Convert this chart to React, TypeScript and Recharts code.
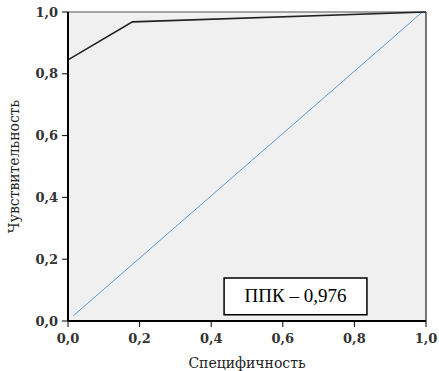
import React from "react";
import { ComposedChart, Line, XAxis, YAxis, CartesianGrid, ReferenceLine, ReferenceArea, Label } from "recharts";

const rocX = [0, 0.18, 1];
const rocY = [0.845, 0.968, 1];
const diagX = [0.015, 0.99];
const diagY = [0.017, 1.0];
const ticks = [0, 0.2, 0.4, 0.6, 0.8, 1];
const tickLabels = ["0,0", "0,2", "0,4", "0,6", "0,8", "1,0"];
const aucText = "ППК – 0,976";
const xTitle = "Специфичность";
const yTitle = "Чувствительность";

const rocData = rocX.map((x, i) => ({ x, y: rocY[i] }));
const diagData = diagX.map((x, i) => ({ x, y: diagY[i] }));
const fmt = (v: number) => tickLabels[ticks.indexOf(v)] ?? String(v);

const font = "'Liberation Serif', 'Times New Roman', serif";
const tickFont = "'DejaVu Serif', serif";

const AucLabel = (props: any) => {
  const { viewBox } = props;
  const { x, y, width, height } = viewBox;
  return (
    <text x={x + width / 2} y={y + height / 2 + 6} textAnchor="middle" fontFamily={font} fontSize={19} fill="#000">
      {aucText}
    </text>
  );
};

const tickStyle = { fontFamily: tickFont, fontSize: 13, fontWeight: "bold", fill: "#333" };
const titleStyle = { fontFamily: tickFont, fontSize: 14, fill: "#222" };

export default function App() {
  return (
    <div style={{ position: "absolute", left: 0, top: 0, width: 439, height: 371, background: "#fff" }}>
      <ComposedChart width={439} height={371} margin={{ top: 12, right: 13, left: 0, bottom: 0 }}>
        <CartesianGrid fill="#f0f0f0" horizontal={false} vertical={false} />
        <XAxis
          dataKey="x"
          type="number"
          domain={[0, 1]}
          ticks={ticks}
          tickFormatter={fmt}
          height={50}
          axisLine={{ stroke: "#000", strokeWidth: 2 }}
          tickLine={{ stroke: "#000" }}
          tickSize={6}
          tickMargin={7}
          tick={tickStyle}
        >
          <Label value={xTitle} position="insideBottom" offset={3} style={titleStyle} />
        </XAxis>
        <YAxis
          dataKey="y"
          type="number"
          domain={[0, 1]}
          ticks={ticks}
          tickFormatter={fmt}
          width={68}
          axisLine={{ stroke: "#000", strokeWidth: 2 }}
          tickLine={{ stroke: "#000" }}
          tickSize={6}
          tickMargin={4}
          tick={tickStyle}
        >
          <Label value={yTitle} angle={-90} position="insideLeft" offset={14} style={{ ...titleStyle, textAnchor: "middle" }} />
        </YAxis>
        <ReferenceLine y={1} stroke="#888" strokeWidth={1.5} />
        <ReferenceLine x={1} stroke="#777" strokeWidth={2} />
        <Line data={diagData} dataKey="y" stroke="#5b9bd5" strokeWidth={1} dot={false} isAnimationActive={false} />
        <Line data={rocData} dataKey="y" stroke="#222" strokeWidth={1.6} dot={false} isAnimationActive={false} />
        <ReferenceArea x1={0.436} x2={0.835} y1={0.02} y2={0.139} fill="#fff" fillOpacity={1} stroke="#000" strokeWidth={1.5} label={<AucLabel />} />
      </ComposedChart>
    </div>
  );
}
